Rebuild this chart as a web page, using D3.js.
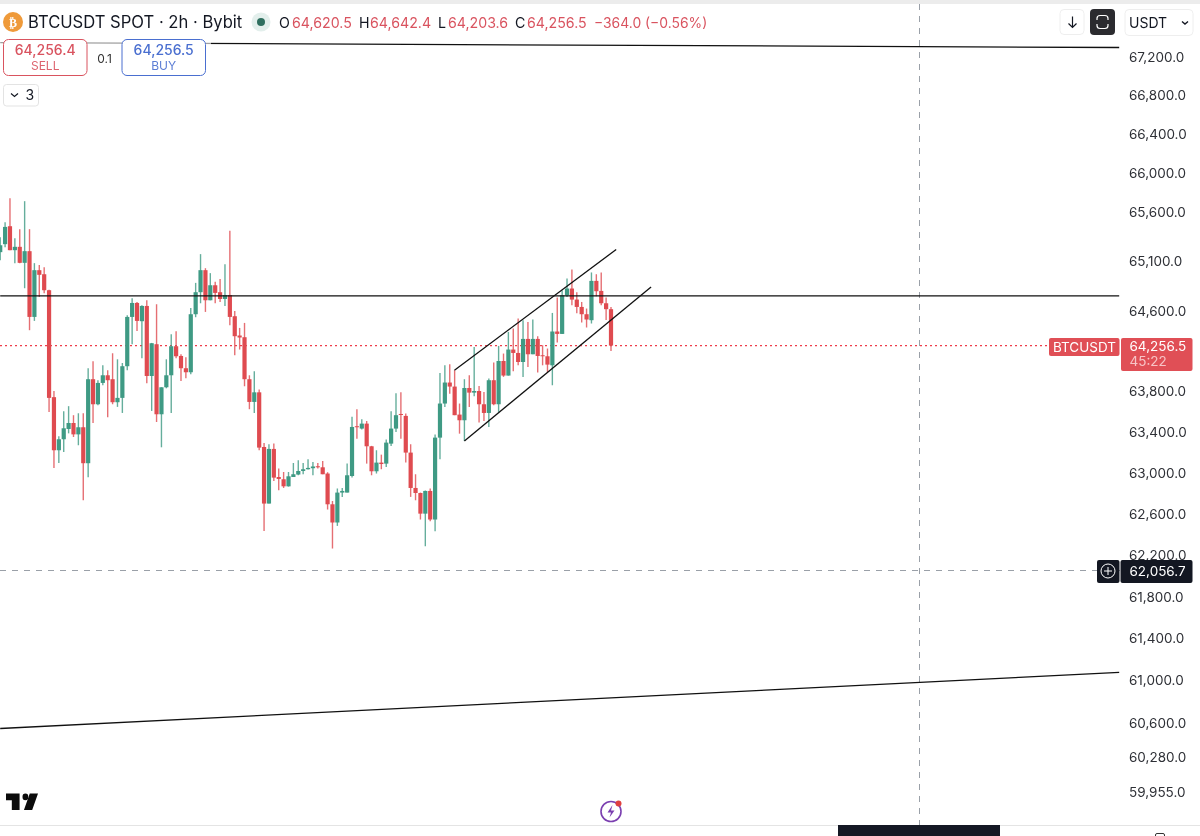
<!DOCTYPE html>
<html>
<head>
<meta charset="utf-8">
<title>BTCUSDT SPOT 2h</title>
<script src="https://cdn.jsdelivr.net/npm/d3@7"></script>
<style>
  html, body { margin: 0; padding: 0; background: #fff; }
  svg { display: block; font-family: Inter, "Noto Sans", sans-serif; filter: blur(0.35px); }
</style>
</head>
<body>
<svg id="chart" width="1200" height="836"></svg>
<script>
// candles, oldest first
const opens = [65195,65276,65458,65215,65249,65087,65205,64543,65013,64972,64811,63744,63221,63329,63430,63489,63377,63447,63094,63922,63674,63885,63961,63922,63694,63737,64051,64543,64683,64500,64653,63954,64270,63575,63842,63961,64250,64153,64031,63991,64570,64791,65013,64710,64861,64791,64723,64763,64550,64357,64340,63922,63697,63792,63253,62700,63234,62959,62937,62868,62959,62983,63018,63035,63045,63064,63054,62993,62693,62516,62807,62807,62969,63457,63434,63483,63260,63015,63100,63090,63286,63434,63578,63559,63198,62852,62803,62602,62823,62545,63345,63681,63889,63849,63572,63516,63835,63789,63805,63674,63588,63912,63674,64103,63958,64217,64183,64093,64323,64170,64323,64160,64150,64060,64397,64373,64760,64828,64717,64643,64570,64510,64905,64804,64680,64620.5];
const highs = [65346,65499,65743,65336,65428,65713,65428,65084,65066,65043,64815,63805,63358,63605,63655,63566,63585,63585,64031,64100,63912,64060,64011,64180,64120,64083,64560,64730,64693,64660,64710,64283,64670,63842,64120,64370,64400,64170,64140,64633,64885,65175,65033,64983,64895,64925,65074,65411,64603,64433,64483,63961,64001,63819,63292,63280,63287,63042,63008,63008,63096,63123,63096,63133,63106,63096,63116,63006,62725,62847,62852,63090,63550,63625,63526,63509,63264,63221,63178,63326,63605,63782,63792,63582,63280,62986,62807,62827,62847,63377,63984,64060,64070,64011,63681,63922,63961,64243,63855,63795,63929,64087,64253,64177,64393,64427,64527,64510,64493,64517,64350,64260,64227,64583,64737,64811,64929,65020,64791,64693,64627,64990,64972,64990,64737,64642.4];
const lows = [65114,65245,65215,65084,65084,64831,64410,64503,64743,64781,63598,63048,63096,63204,63387,63351,63270,62732,62956,63489,63665,63862,63546,63674,63648,63588,64011,64270,64403,64130,63882,63608,63499,63250,63832,63588,64130,63905,63932,63971,64540,64680,64593,64710,64680,64693,64653,64460,64160,64217,63852,63625,63588,63221,62434,62700,62920,62830,62852,62865,62959,62976,62986,63032,62976,63042,62986,62642,62264,62483,62765,62807,62953,63335,63424,63090,62976,62993,63035,63058,63263,63400,63335,63100,62765,62732,62545,62286,62528,62431,63133,63648,63779,63566,63384,63312,63648,63753,63493,63509,63450,63665,63598,63945,63958,64001,64060,63944,64044,64170,63988,64060,63994,63862,64287,64373,64743,64660,64580,64487,64437,64477,64750,64660,64513,64203.6];
const closes = [65265,65451,65215,65249,65087,65205,64543,65013,64966,64811,63737,63221,63329,63437,63489,63377,63447,63094,63922,63674,63885,63961,63912,63694,63737,64051,64543,64683,64503,64653,63954,64280,63575,63842,63961,64250,64150,64031,63991,64570,64791,65013,64710,64861,64784,64723,64763,64543,64350,64337,63922,63697,63792,63247,62700,63234,62953,62940,62868,62966,62986,63018,63035,63048,63062,63054,62986,62693,62516,62807,62823,62976,63450,63450,63483,63260,63015,63100,63086,63296,63434,63566,63572,63198,62852,62803,62602,62823,62545,63345,63681,63889,63849,63566,63516,63835,63789,63805,63674,63588,63912,63674,64103,63958,64217,64183,64093,64323,64170,64323,64153,64150,64067,64397,64373,64760,64828,64717,64643,64570,64517,64905,64801,64680,64620.5,64256.5];

const priceTicks = [67200,66800,66400,66000,65600,65100,64600,63800,63400,63000,62600,62200,61800,61400,61000,60600,60280,59955];

// drawn lines: [bar from, price from, bar to, price to]
const drawnLines = [
  [0, 67351, 229, 67299],
  [0, 64755, 229, 64755],
  [0, 60549, 229, 61078],
  [92.96, 64011, 126.06, 65222],
  [95.0, 63312, 133.2, 64844]
];

const lastPrice = 64256.5;
const crossPrice = 62056.7;
const crossBar = 188.09;

const ohlcLabels = [["O", "64,620.5", 279, 292], ["H", "64,642.4", 359, 370], ["L", "64,203.6", 438, 448], ["C", "64,256.5", 515, 527]];

const red = "#df4b50", green = "#3f9a84", ink = "#131722";
const fmt = d3.format(",.1f");

const svg = d3.select("#chart");
const x = d3.scaleLinear().domain([0, 125]).range([0.2, 611]);
const y = d3.scaleLog().domain([59955, 67200]).range([792, 57]);

// page furniture
svg.append("rect").attr("x", 0).attr("y", 0).attr("width", 1200).attr("height", 4).attr("fill", "#ececec");
svg.append("line").attr("x1", 0).attr("x2", 1200).attr("y1", 825.5).attr("y2", 825.5).attr("stroke", "#e4e4e4");

// crosshair sits under the candles
svg.append("line")
  .attr("x1", x(crossBar)).attr("x2", x(crossBar)).attr("y1", 4).attr("y2", 825)
  .attr("stroke", "#9aa0a8").attr("stroke-dasharray", "6 6").attr("shape-rendering", "crispEdges");
svg.append("line")
  .attr("x1", 0).attr("x2", 1120).attr("y1", y(crossPrice)).attr("y2", y(crossPrice))
  .attr("stroke", "#9aa0a8").attr("stroke-dasharray", "6 6").attr("shape-rendering", "crispEdges");

// last price line
svg.append("line")
  .attr("x1", 0).attr("x2", 1120).attr("y1", y(lastPrice)).attr("y2", y(lastPrice))
  .attr("stroke", "#ee3d4a").attr("stroke-width", 1.3).attr("stroke-dasharray", "2 3");

const candles = opens.map((o, i) => ({ i, o, h: highs[i], l: lows[i], c: closes[i] }));
const candleColor = d => d.c >= d.o ? green : red;

svg.append("g").selectAll("line")
  .data(candles)
  .enter()
  .append("line")
  .attr("x1", d => x(d.i)).attr("x2", d => x(d.i))
  .attr("y1", d => y(d.h)).attr("y2", d => y(d.l))
  .attr("stroke", candleColor).attr("stroke-width", 1.4).attr("opacity", 0.8);

svg.append("g").selectAll("rect")
  .data(candles)
  .enter()
  .append("rect")
  .attr("x", d => x(d.i) - 2.1)
  .attr("y", d => y(Math.max(d.o, d.c)))
  .attr("width", 4.2)
  .attr("height", d => Math.max(1, Math.abs(y(d.o) - y(d.c))))
  .attr("fill", candleColor);

svg.append("g").selectAll("line")
  .data(drawnLines)
  .enter()
  .append("line")
  .attr("x1", d => x(d[0])).attr("y1", d => y(d[1]))
  .attr("x2", d => x(d[2])).attr("y2", d => y(d[3]))
  .attr("stroke", "#111").attr("stroke-width", 1.3);

// price axis
const axis = svg.append("g")
  .attr("transform", "translate(1129,0)")
  .call(d3.axisRight(y).tickValues(priceTicks).tickSize(0).tickPadding(0).tickFormat(fmt));
axis.select(".domain").remove();
axis.selectAll("text").attr("font-family", "Inter").attr("font-size", 13.5).attr("fill", "#2e3036");

// legend
const head = svg.append("g");
head.append("circle").attr("cx", 13).attr("cy", 22).attr("r", 10).attr("fill", "#ef9a3a");
head.append("text").attr("x", 13).attr("y", 26.5).attr("text-anchor", "middle")
  .attr("font-size", 12).attr("font-weight", 700).attr("fill", "#fff").attr("font-family", "DejaVu Sans").text("₿");
head.append("text").attr("x", 28).attr("y", 28).attr("font-size", 16.6).attr("fill", ink).text("BTCUSDT SPOT · 2h · Bybit");
head.append("circle").attr("cx", 261).attr("cy", 22).attr("r", 9.5).attr("fill", "#e3efec");
head.append("circle").attr("cx", 261).attr("cy", 22).attr("r", 4).attr("fill", "#2f6f5f");

ohlcLabels.forEach(d => {
  head.append("text").attr("x", d[2]).attr("y", 27.5).attr("font-size", 14.2).attr("fill", ink).text(d[0]);
  head.append("text").attr("x", d[3]).attr("y", 27.5).attr("font-size", 14.2).attr("fill", "#d9535f").text(d[1]);
});
head.append("text").attr("x", 594).attr("y", 27.5).attr("font-size", 13.9).attr("fill", "#d9535f").text("−364.0 (−0.56%)");

// order buttons, the top line runs faintly behind them
svg.append("rect").attr("x", 0).attr("y", 38).attr("width", 211).attr("height", 9).attr("fill", "#fff").attr("opacity", 0.6);

const tradeButtons = [
  { left: 3.5, price: "64,256.4", side: "SELL", color: "#d9535f", textColor: "#d9535f" },
  { left: 122, price: "64,256.5", side: "BUY", color: "#4a6fd0", textColor: "#4a6fd0" }
];
tradeButtons.forEach(b => {
  svg.append("rect").attr("x", b.left).attr("y", 39.5).attr("width", 83.5).attr("height", 36).attr("rx", 5)
    .attr("fill", "#fff").attr("stroke", b.color);
  svg.append("text").attr("x", b.left + 41.7).attr("y", 55).attr("text-anchor", "middle")
    .attr("font-size", 14).attr("font-weight", 500).attr("fill", b.textColor).text(b.price);
  svg.append("text").attr("x", b.left + 41.7).attr("y", 69.5).attr("text-anchor", "middle")
    .attr("font-size", 12).attr("fill", b.textColor).attr("opacity", 0.9).text(b.side);
});
svg.append("text").attr("x", 104.5).attr("y", 62.5).attr("text-anchor", "middle").attr("font-size", 12).attr("fill", "#333").text("0.1");

svg.append("rect").attr("x", 3.5).attr("y", 84.5).attr("width", 35).attr("height", 21.5).attr("rx", 3)
  .attr("fill", "#fff").attr("stroke", "#e3e3e3");
svg.append("path").attr("d", "M11 93.5l3.5 3 3.5-3").attr("fill", "none").attr("stroke", ink).attr("stroke-width", 1.2);
svg.append("text").attr("x", 25.5).attr("y", 100).attr("font-size", 14).attr("fill", ink).text("3");

// top right controls
svg.append("rect").attr("x", 1060).attr("y", 9.5).attr("width", 24).attr("height", 25).attr("rx", 4).attr("fill", "#fff").attr("stroke", "#eeeeee");
svg.append("path").attr("d", "M1072.5 16.5v11M1068.5 23.5l4 4 4-4").attr("fill", "none").attr("stroke", ink).attr("stroke-width", 1.2);
svg.append("rect").attr("x", 1090).attr("y", 9).attr("width", 25).attr("height", 26).attr("rx", 4).attr("fill", "#2b2b2f");
svg.append("path").attr("d", "M1097 20v-1.500a3 3 0 0 1 3-3h5a3 3 0 0 1 3 3v1.500M1097 24v1.500a3 3 0 0 0 3 3h5a3 3 0 0 0 3-3v-1.500")
  .attr("fill", "none").attr("stroke", "#fff").attr("stroke-width", 1.2);
svg.append("rect").attr("x", 1125).attr("y", 9.5).attr("width", 68).attr("height", 26).attr("rx", 4).attr("fill", "#fff").attr("stroke", "#eeeeee");
svg.append("text").attr("x", 1129).attr("y", 27.5).attr("font-size", 14).attr("fill", ink).text("USDT");
svg.append("path").attr("d", "M1182 21.500l3 2.500 3-2.500").attr("fill", "none").attr("stroke", ink).attr("stroke-width", 1.4);

// last price tags
svg.append("rect").attr("x", 1049).attr("y", 338).attr("width", 70.5).attr("height", 18).attr("rx", 2).attr("fill", "#e04f56");
svg.append("text").attr("x", 1084.5).attr("y", 352).attr("text-anchor", "middle").attr("font-size", 13.5).attr("fill", "#fff").text("BTCUSDT");
svg.append("rect").attr("x", 1121).attr("y", 338).attr("width", 71.5).attr("height", 33).attr("rx", 2).attr("fill", "#e04f56");
svg.append("text").attr("x", 1129.5).attr("y", 351).attr("font-size", 13.5).attr("fill", "#fff").text(fmt(lastPrice));
svg.append("text").attr("x", 1129.5).attr("y", 366).attr("font-size", 13.5).attr("fill", "#f7c4c6").text("45:22");

// crosshair tags
svg.append("rect").attr("x", 1097).attr("y", 560).attr("width", 22.5).attr("height", 23).attr("rx", 2).attr("fill", ink);
svg.append("circle").attr("cx", 1108).attr("cy", 571).attr("r", 7).attr("fill", "none").attr("stroke", "#fff");
svg.append("path").attr("d", "M1104 571h8M1108 567v8").attr("stroke", "#fff");
svg.append("rect").attr("x", 1120.5).attr("y", 560).attr("width", 72).attr("height", 23).attr("rx", 2).attr("fill", ink);
svg.append("text").attr("x", 1129.5).attr("y", 576).attr("font-size", 13.5).attr("fill", "#fff").text(fmt(crossPrice));

// logo
svg.append("g").attr("transform", "translate(6,787) scale(0.97,1.1)").attr("fill", "#0b0b0b")
  .call(g => {
    g.append("path").attr("d", "M14 6H0v6h6v9h8V6Zm20 0h-9.500l-6 15H27l6-15Z");
    g.append("circle").attr("cx", 20).attr("cy", 9).attr("r", 3);
  });

// lightning badge
svg.append("circle").attr("cx", 611).attr("cy", 811.5).attr("r", 10).attr("fill", "none").attr("stroke", "#7b3fb0").attr("stroke-width", 1.6);
svg.append("path").attr("d", "M612.500 805l-5 7.500h3.500l-1.500 5 5-7h-3.500z").attr("fill", "#7b3fb0");
svg.append("circle").attr("cx", 618.5).attr("cy", 803.5).attr("r", 3).attr("fill", "#e0403f");

// bottom bar
svg.append("rect").attr("x", 838).attr("y", 825).attr("width", 162).attr("height", 11).attr("fill", "#141824");
svg.append("rect").attr("x", 1155.5).attr("y", 833.5).attr("width", 9).attr("height", 4).attr("rx", 1.5).attr("fill", "none").attr("stroke", "#333");
</script>
</body>
</html>
